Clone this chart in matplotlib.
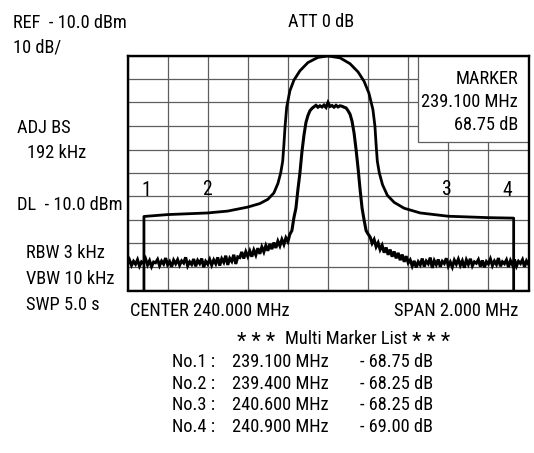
import numpy as np
import matplotlib
matplotlib.use("Agg")
import matplotlib.pyplot as plt
from matplotlib import font_manager
from matplotlib.patches import Rectangle

# ---------------- data ----------------
f_start, f_stop = 239.0, 241.0          # MHz (CENTER 240.000, SPAN 2.000)
ref_level = -10.0                        # dBm
db_per_div = 10.0

# wide trace (adjacent-channel filter shape)
wide_freq = [239.082, 239.082, 239.2, 239.4, 239.5, 239.6, 239.66, 239.7, 239.73, 239.75,
             239.764, 239.774, 239.78, 239.786, 239.794, 239.81, 239.83, 239.86, 239.9, 239.95,
             240.0, 240.06, 240.11, 240.15, 240.18, 240.204, 240.224, 240.234, 240.24, 240.246,
             240.256, 240.272, 240.296, 240.33, 240.38, 240.46, 240.6, 240.8, 240.926, 240.926]
wide_level = [-110.0, -78.5, -77.7, -77.0, -76.2, -74.5, -73.0, -71.2, -68.5, -64.5,
              -60.0, -55.0, -48.0, -40.0, -32.0, -25.0, -20.5, -16.5, -13.0, -10.8,
              -10.2, -11.0, -13.5, -17.0, -21.0, -26.0, -33.0, -40.0, -48.0, -55.0,
              -60.0, -65.0, -69.5, -72.5, -75.0, -77.0, -78.4, -79.0, -79.2, -110.0]

# narrow trace (signal spectrum, 201 sweep points)
narrow_level = [
    -98.9, -97.0, -99.3, -97.6, -98.8, -96.9, -99.6, -97.8, -98.4, -96.5,
    -99.1, -97.3, -99.8, -97.9, -98.2, -96.8, -99.4, -97.5, -98.7, -96.2,
    -99.0, -97.7, -99.9, -97.1, -98.6, -96.9, -99.2, -97.4, -98.3, -95.9,
    -99.5, -97.8, -98.9, -96.6, -99.7, -97.2, -98.5, -96.4, -100.1, -97.6,
    -98.8,
    -96.8, -99.2, -97.0, -98.6, -95.9, -99.4, -96.5, -98.0, -95.2, -99.1,
    -96.3, -97.6, -94.8, -98.7, -95.7, -96.0, -93.6, -96.4, -93.5, -95.5,
    -93.2, -95.6, -92.8, -94.9, -92.0, -94.4, -91.5, -93.6, -90.9, -93.1,
    -90.2, -92.4, -89.6, -91.9, -89.0, -91.0, -88.3, -90.4, -87.6, -89.2,
    -86.0, -84.5, -79.0, -75.0, -67.0, -60.0, -51.0, -44.0, -38.5, -35.5,
    -33.5, -32.5,
    -31.8, -31.2, -32.0, -31.4, -31.9, -31.1, -32.1, -30.0, -31.7, -31.3,
    -32.0, -31.2, -31.9, -31.4, -31.6, -32.0,
    -32.3, -33.5, -35.0, -38.0, -43.0, -50.0, -58.0, -67.0, -75.0, -80.0,
    -84.5, -86.0,
    -87.2, -89.9, -88.3, -91.4, -89.7, -92.6, -90.8, -93.9, -91.7, -94.8,
    -92.6, -95.6, -93.4, -96.3, -94.0, -97.1, -94.7, -97.8, -95.4, -98.2,
    -97.0, -99.6, -97.4, -100.2, -97.8, -99.1, -96.4, -99.8, -97.5, -98.6,
    -96.0, -100.4, -97.3, -99.0, -96.8, -99.9, -97.6, -98.5, -96.3, -99.6,
    -97.9, -100.0, -97.1, -98.8, -96.7, -99.3, -97.4, -100.3, -97.0, -98.9,
    -96.5, -99.5, -97.8, -98.4, -96.9, -99.8, -97.2, -100.1, -97.7, -98.7,
    -96.6, -99.4, -97.5, -98.9, -96.2, -99.7, -97.8, -98.6, -97.0, -100.0,
    -97.3, -99.1, -96.8, -99.6, -97.6, -98.5, -96.9, -99.9, -97.4, -98.8,
]

marker_ids = ["1", "2", "3", "4"]
marker_freq = [239.100, 239.400, 240.600, 240.900]
marker_db = [-68.75, -68.25, -68.25, -69.00]

# ---------------- style ----------------
avail = {f.name for f in font_manager.fontManager.ttflist}
narrow = [f for f in ["Liberation Sans Narrow", "Arial Narrow", "Roboto Condensed"] if f in avail]
if narrow:
    family = [narrow[0], "DejaVu Sans"]
    FS = 13.2
else:
    family = ["Liberation Sans", "DejaVu Sans"]
    FS = 11.5
plt.rcParams["font.family"] = family

W, H = 534, 453
fig = plt.figure(figsize=(W / 100, H / 100), dpi=100)
L, R, T, B = 127.5, 528.5, 55.5, 290.5
ax = fig.add_axes([L / W, 1 - B / H, (R - L) / W, (B - T) / H])

bottom = ref_level - 10 * db_per_div
ax.set_xlim(f_start, f_stop)
ax.set_ylim(bottom, ref_level)
ax.set_xticks(np.linspace(f_start, f_stop, 11))
ax.set_yticks(np.linspace(bottom, ref_level, 11))
ax.tick_params(length=0, labelbottom=False, labelleft=False)
ax.grid(True, color="#5e5e5e", lw=0.9)
ax.set_axisbelow(True)
for s in ax.spines.values():
    s.set_linewidth(1.7)
    s.set_zorder(10)

narrow_freq = np.linspace(f_start, f_stop, len(narrow_level))
ax.plot(narrow_freq, narrow_level, color="black", lw=2.2, zorder=3,
        solid_joinstyle="miter")
ax.plot(wide_freq, wide_level, color="black", lw=2.0, zorder=4, solid_joinstyle="round")

# marker labels
for mid, mf, md in zip(marker_ids, marker_freq, marker_db):
    ax.text(mf - 0.005, ref_level + md + 9.0, mid, ha="center", va="baseline",
            fontsize=FS + 1, zorder=6)

# marker readout box
ax.add_patch(Rectangle((0.7237, 0.633), 0.2763, 0.367, transform=ax.transAxes,
                       facecolor="white", edgecolor="#5e5e5e", lw=0.9, zorder=5))


def ptext(x, y, s, ha="left", fs=FS):
    fig.text(x / W, 1 - y / H, s, ha=ha, va="baseline", fontsize=fs)


ptext(518, 84, "MARKER", ha="right")
ptext(518, 107, f"{marker_freq[0]:.3f} MHz", ha="right")
ptext(518, 130, f"{abs(marker_db[0]):.2f} dB", ha="right")

ptext(13, 28, f"REF  - {abs(ref_level):.1f} dBm")
ptext(13, 52, f"{db_per_div:.0f} dB/")
ptext(321, 27, "ATT 0 dB", ha="center")
ptext(17, 133, "ADJ BS")
ptext(27, 158, "192 kHz")
ptext(17, 210, f"DL  - {abs(ref_level):.1f} dBm")
ptext(26, 258, "RBW 3 kHz")
ptext(26, 284, "VBW 10 kHz")
ptext(26, 310, "SWP 5.0 s")
ptext(130, 316, f"CENTER {(f_start + f_stop) / 2:.3f} MHz")
ptext(518, 316, f"SPAN {f_stop - f_start:.3f} MHz", ha="right")
ptext(256, 348, "* * *", ha="center", fs=FS + 2.5)
ptext(346, 344, "Multi Marker List", ha="center")
ptext(431, 348, "* * *", ha="center", fs=FS + 2.5)
for i, (mid, mf, md) in enumerate(zip(marker_ids, marker_freq, marker_db)):
    y = 367 + i * 21.7
    ptext(172, y, f"No.{mid} :")
    ptext(232, y, f"{mf:.3f} MHz")
    ptext(360, y, f"- {abs(md):.2f} dB")

fig.savefig("out.png", dpi=100, facecolor="white")
